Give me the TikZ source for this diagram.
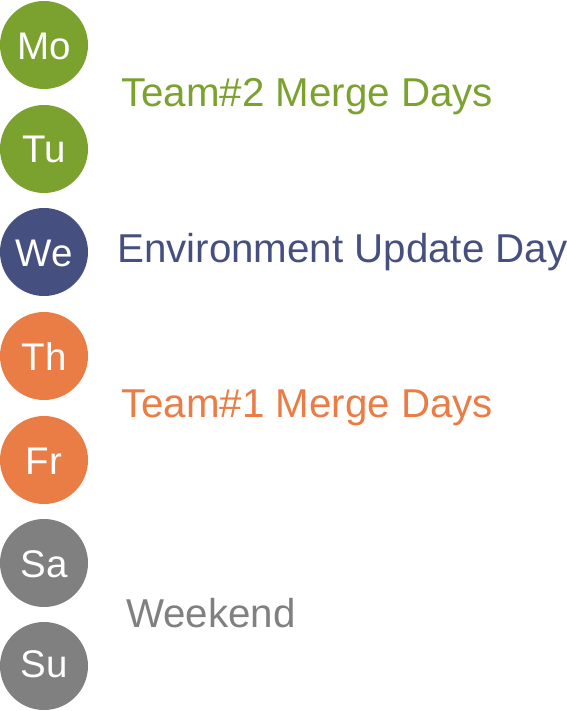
\documentclass[tikz,border=0pt]{standalone}
\usepackage{fontspec}
\setmainfont{Liberation Sans}
\definecolor{teamtwo}{HTML}{7BA22F}
\definecolor{envday}{HTML}{465080}
\definecolor{teamone}{HTML}{E97D45}
\definecolor{weekend}{HTML}{808080}
\begin{document}
\begin{tikzpicture}[x=1pt,y=-1pt,
  day/.style={circle,fill=#1,draw=none,minimum size=88pt,inner sep=0pt},
  daytext/.style={anchor=base,inner sep=0pt,text=white,font=\fontsize{38.5}{38.5}\selectfont},
  caption/.style={anchor=base west,inner sep=0pt,text=#1,font=\fontsize{40.3}{41}\selectfont}]
\useasboundingbox (0,0) rectangle (566,711);
% day circles
\node[day=teamtwo] (mo) at (44,45) {};
\node[day=teamtwo] (tu) at (44,149) {};
\node[day=envday]  (we) at (44,252) {};
\node[day=teamone] (th) at (44,356) {};
\node[day=teamone] (fr) at (44,460) {};
\node[day=weekend] (sa) at (44,563) {};
\node[day=weekend] (su) at (44,666) {};
% day abbreviations
\node[daytext] (mot) at (44,60) {Mo};
\node[daytext] (tut) at (44,163) {Tu};
\node[daytext] (wet) at (44,266) {We};
\node[daytext] (tht) at (44,370) {Th};
\node[daytext] (frt) at (44,474) {Fr};
\node[daytext] (sat) at (44,577) {Sa};
\node[daytext] (sut) at (44,677) {Su};
% group captions
\node[caption=teamtwo] (c2) at (121,107) {Team\#2 Merge Days};
\node[caption=envday]  (ce) at (117,262) {Environment Update Day};
\node[caption=teamone] (c1) at (121,417) {Team\#1 Merge Days};
\node[caption=weekend] (cw) at (126,627) {Weekend};
\end{tikzpicture}
\end{document}
